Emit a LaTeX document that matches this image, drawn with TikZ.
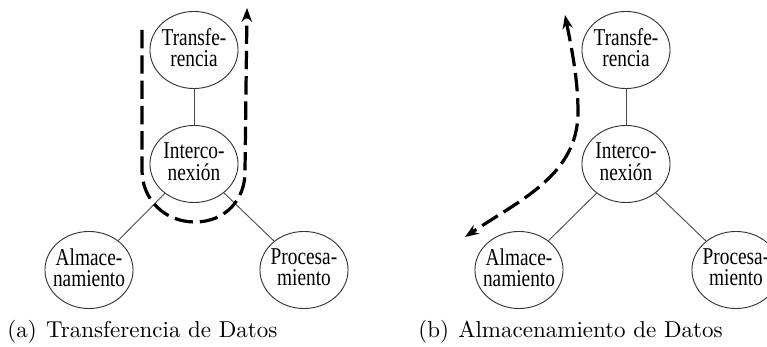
\documentclass[tikz,border=0pt]{standalone}
\usepackage{fontspec}
\usepackage{tikz}
\usetikzlibrary{arrows.meta, shapes.geometric}
\newfontfamily\nodefont[FakeStretch=0.8]{Liberation Serif}
\newcommand{\twolines}[2]{\makebox[0pt]{\begin{tabular}{@{}c@{}}#1\\#2\end{tabular}}}

\begin{document}
\begin{tikzpicture}[x=0.4348pt, y=-0.4348pt,
        bubble/.style={ellipse, draw=black!80, thin, minimum width=38.3pt, minimum height=33.5pt,
            inner sep=0pt, font=\nodefont\fontsize{10.5}{7.6}\selectfont},
        link/.style={thin, black!70},
        flow/.style={line width=1.4pt, dash pattern=on 8pt off 3pt},
        >={Stealth[length=6pt, width=4.5pt]}]
    \useasboundingbox (0,0) rectangle (767,347);

    % (a) transferencia
    \node[bubble] (tra) at (194,50) {\twolines{Transfe-}{rencia}};
    \node[bubble] (inta) at (194,164) {\twolines{Interco-}{nexión}};
    \node[bubble] (alma) at (89,270) {\twolines{Almace-}{namiento}};
    \node[bubble] (proa) at (304,270) {\twolines{Procesa-}{miento}};
    \draw[link] (tra) -- (inta);
    \draw[link] (inta) -- (alma);
    \draw[link] (inta) -- (proa);
    \coordinate (sa) at (142,30);
    \coordinate (ea) at (247,8);
    \draw[flow, ->] (sa) -- (142,170) .. controls (142,200) and (165,222) .. (195,222)
        .. controls (225,222) and (245,200) .. (245,172) -- (ea);
    \node[anchor=base west, inner sep=0pt] (capa) at (7,338) {(a)\hspace{4pt}Transferencia de Datos};

    % (b) almacenamiento
    \node[bubble] (trb) at (626,50) {\twolines{Transfe-}{rencia}};
    \node[bubble] (intb) at (626,164) {\twolines{Interco-}{nexión}};
    \node[bubble] (almb) at (519,270) {\twolines{Almace-}{namiento}};
    \node[bubble] (prob) at (736,270) {\twolines{Procesa-}{miento}};
    \draw[link] (trb) -- (intb);
    \draw[link] (intb) -- (almb);
    \draw[link] (intb) -- (prob);
    \coordinate (sb) at (565,15);
    \coordinate (eb) at (465,237);
    \draw[flow, <->] (sb) .. controls (572,50) and (578,80) .. (578,112)
        .. controls (578,175) and (520,200) .. (eb);
    \node[anchor=base west, inner sep=0pt] (capb) at (418,338) {(b)\hspace{4pt}Almacenamiento de Datos};
\end{tikzpicture}
\end{document}
